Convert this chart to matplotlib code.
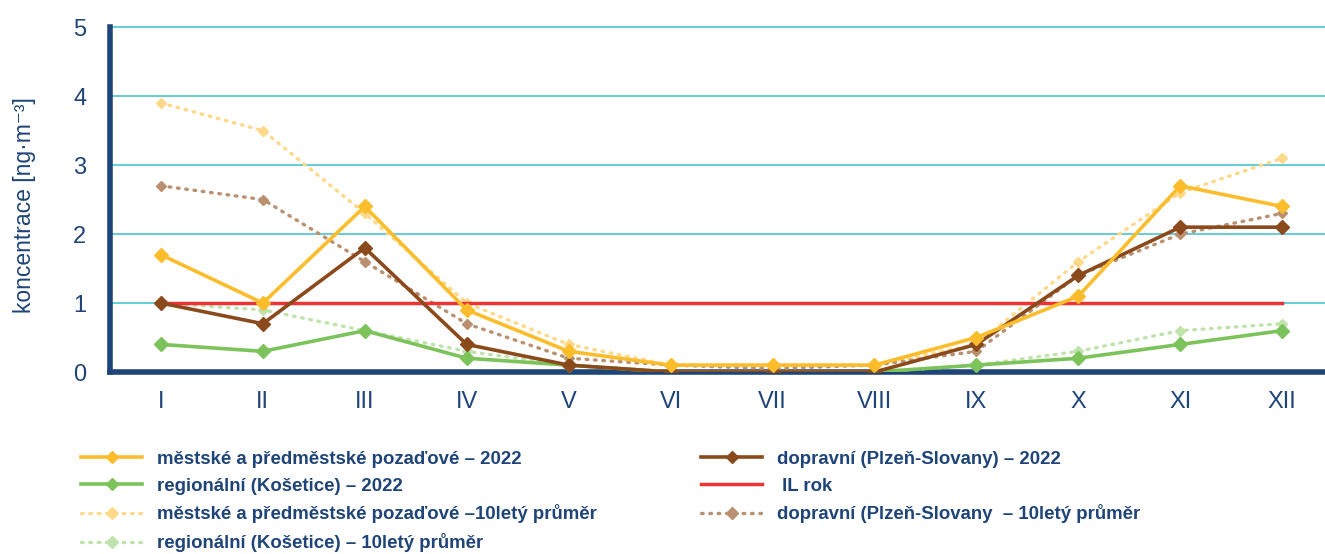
import matplotlib.pyplot as plt
import numpy as np

plt.rcParams['font.family'] = ['Liberation Sans', 'DejaVu Sans']

months = ["I", "II", "III", "IV", "V", "VI", "VII", "VIII", "IX", "X", "XI", "XII"]

# 2022
urban_2022 = [1.7, 1.0, 2.4, 0.9, 0.3, 0.1, 0.1, 0.1, 0.5, 1.1, 2.7, 2.4]
traffic_2022 = [1.0, 0.7, 1.8, 0.4, 0.1, 0.0, 0.0, 0.0, 0.4, 1.4, 2.1, 2.1]
regional_2022 = [0.4, 0.3, 0.6, 0.2, 0.1, 0.0, 0.0, 0.0, 0.1, 0.2, 0.4, 0.6]

# 10-year averages
urban_10y = [3.9, 3.5, 2.3, 1.0, 0.4, 0.1, 0.1, 0.1, 0.4, 1.6, 2.6, 3.1]
traffic_10y = [2.7, 2.5, 1.6, 0.7, 0.2, 0.1, 0.05, 0.1, 0.3, 1.4, 2.0, 2.3]
regional_10y = [1.0, 0.9, 0.6, 0.3, 0.1, 0.0, 0.0, 0.0, 0.1, 0.3, 0.6, 0.7]

il_limit = [1.0] * 12

labels = {
    "urban_2022": "městské a předměstské pozaďové – 2022",
    "traffic_2022": "dopravní (Plzeň-Slovany) – 2022",
    "regional_2022": "regionální (Košetice) – 2022",
    "il": " IL rok",
    "urban_10y": "městské a předměstské pozaďové –10letý průměr",
    "traffic_10y": "dopravní (Plzeň-Slovany  – 10letý průměr",
    "regional_10y": "regionální (Košetice) – 10letý průměr",
}

NAVY = "#1f4478"
YELLOW = "#fbbd2b"
BROWN = "#8b4a1c"
GREEN = "#7cc35b"
RED = "#ee3333"
GRID = "#4cc5cf"

fig = plt.figure(figsize=(13.25, 5.54), dpi=100)
ax = fig.add_axes([0.083, 0.3285, 0.917, 0.6225])

x = np.arange(len(months))
dot = (0, (0.5, 2.0))

h_u10, = ax.plot(x, urban_10y, color="#ffd98a", lw=2.4, linestyle=dot,
                 dash_capstyle="round", marker="D", ms=5, label=labels["urban_10y"], zorder=3)
h_t10, = ax.plot(x, traffic_10y, color="#b99070", lw=2.4, linestyle=dot,
                 dash_capstyle="round", marker="D", ms=5, label=labels["traffic_10y"], zorder=3)
h_r10, = ax.plot(x, regional_10y, color="#bfe3aa", lw=2.4, linestyle=dot,
                 dash_capstyle="round", marker="D", ms=5, label=labels["regional_10y"], zorder=3)

h_il, = ax.plot(x, il_limit, color=RED, lw=2.5, label=labels["il"], zorder=4)

h_r, = ax.plot(x, regional_2022, color=GREEN, lw=2.6, marker="D", ms=7,
               label=labels["regional_2022"], zorder=5)
h_t, = ax.plot(x, traffic_2022, color=BROWN, lw=2.6, marker="D", ms=7,
               label=labels["traffic_2022"], zorder=5)
h_u, = ax.plot(x, urban_2022, color=YELLOW, lw=2.6, marker="D", ms=7,
               label=labels["urban_2022"], zorder=5)

ax.set_xlim(-0.5, 11.42)
ax.set_ylim(0, 5)
ax.set_yticks(range(0, 6))
ax.set_xticks(x)
ax.set_xticklabels(months)
ax.yaxis.grid(True, color=GRID, lw=1.2, clip_on=False)
ax.set_axisbelow(True)

for side in ["top", "right"]:
    ax.spines[side].set_visible(False)
for side in ["left", "bottom"]:
    ax.spines[side].set_color(NAVY)
    ax.spines[side].set_linewidth(4)
    ax.spines[side].set_zorder(2)

ax.tick_params(axis="both", length=0, labelsize=17, labelcolor=NAVY)
ax.tick_params(axis="y", pad=17)
ax.tick_params(axis="x", pad=14)
ax.set_ylabel("koncentrace [ng·m⁻³]", fontsize=16.5, color=NAVY)
ax.yaxis.set_label_coords(-0.061, 0.484)

leg_kw = dict(frameon=False, loc="upper left", prop={"weight": "bold", "size": 13.4},
              handlelength=3.3, handletextpad=0.8, labelspacing=0.52, labelcolor=NAVY,
              borderaxespad=0, borderpad=0)
leg1 = fig.legend(handles=[h_u, h_r, h_u10, h_r10], bbox_to_anchor=(0.061, 0.186), **leg_kw)
leg2 = fig.legend(handles=[h_t, h_il, h_t10], bbox_to_anchor=(0.529, 0.186), **leg_kw)
for leg in (leg1, leg2):
    for line in leg.get_lines():
        line.set_markersize(6)

fig.savefig("out.png", dpi=100)
